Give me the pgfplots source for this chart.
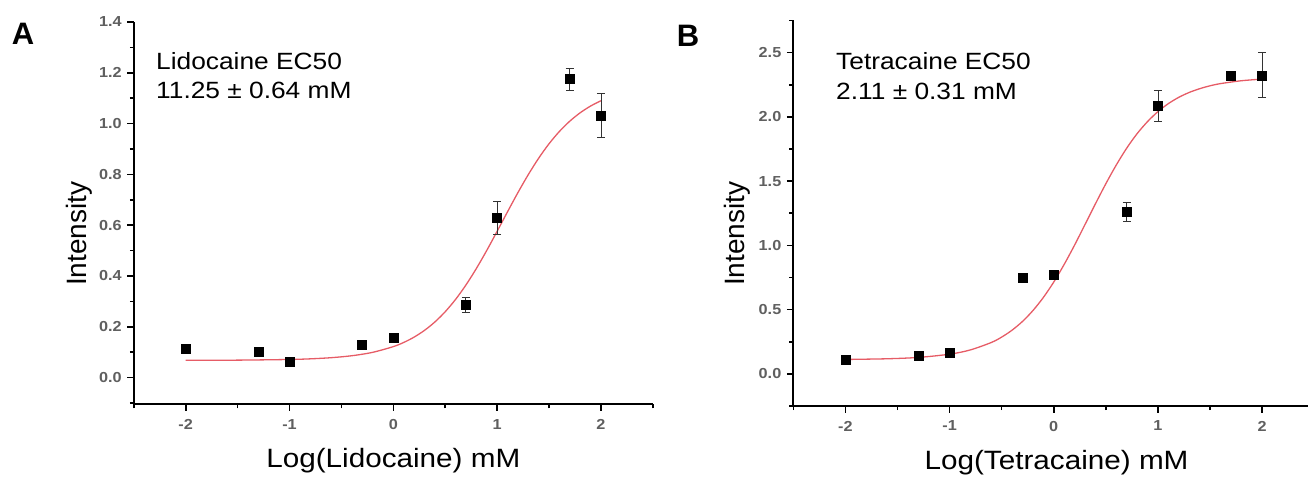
\documentclass[border=0pt]{standalone}
\usepackage{fontspec}
\setmainfont{Liberation Sans}
\newfontfamily\widesans{Liberation Sans}[FakeStretch=1.12]
\usepackage{pgfplots}
\pgfplotsset{compat=1.18}
\definecolor{fitred}{RGB}{230,92,102}
\definecolor{ticktext}{RGB}{95,95,95}

\pgfplotsset{
  panel/.style={
    scale only axis,
    axis lines*=left,
    axis line style={line width=2bp},
    tick align=outside,
    major tick length=6.5bp,
    minor tick length=4bp,
    every tick/.style={black, line width=1.6bp},
    tick label style={font=\widesans\bfseries\fontsize{14.5bp}{16bp}\selectfont, text=ticktext},
    xtick={-2,-1,0,1,2},
    xticklabels={-2,-1,0,1,2},
    minor xtick={-2.5,-1.5,-0.5,0.5,1.5,2.5},
    xticklabel style={yshift=-5bp},
    yticklabel style={xshift=-2bp},
    xmin=-2.5,
    xlabel style={font=\widesans\fontsize{26.5bp}{30bp}\selectfont, anchor=base},
    ylabel style={font=\fontsize{28bp}{30bp}\selectfont, anchor=base},
    ylabel={Intensity},
  },
  pts/.style={only marks, mark=square*, mark size=4.5bp, black,
    error bars/.cd, y dir=both, y explicit,
    error bar style={line width=0.8bp, black!80},
    error mark options={rotate=90, mark size=4bp, line width=0.8bp, black!80}},
  fit/.style={fitred, line width=1.3bp, smooth, no marks},
}

\begin{document}
\begin{tikzpicture}
\path[use as bounding box] (0,0) rectangle (1309bp,478bp);

% panel A
\begin{axis}[panel,
  at={(133.8bp,73.7bp)}, anchor=south west,
  width=519bp, height=382.4bp,
  xmax=2.5, ymin=-0.105, ymax=1.4,
  ytick={0,0.2,0.4,0.6,0.8,1.0,1.2,1.4},
  yticklabels={0.0,0.2,0.4,0.6,0.8,1.0,1.2,1.4},
  minor ytick={-0.1,0.1,0.3,0.5,0.7,0.9,1.1,1.3},
  xlabel={Log(Lidocaine) mM},
  xlabel style={at={(rel axis cs:0.5,-0.1665)}},
  ylabel style={at={(rel axis cs:-0.0915,0.446)}},
]
\addplot[fit] coordinates {
  (-2,0.0682) (-1.5,0.0688) (-1,0.0714) (-0.8,0.0739) (-0.6,0.0784)
  (-0.4,0.0861) (-0.2,0.0994) (0,0.122) (0.1,0.1383) (0.2,0.1593)
  (0.3,0.1858) (0.4,0.2188) (0.5,0.2593) (0.6,0.3078) (0.7,0.3647)
  (0.8,0.4293) (0.9,0.5003) (1.0,0.5757) (1.1,0.6523) (1.2,0.7277)
  (1.3,0.7987) (1.4,0.8633) (1.5,0.9202) (1.6,0.9687) (1.7,1.0092)
  (1.8,1.0422) (1.9,1.0687) (2.0,1.0897)
};
\addplot[pts] coordinates {
  (-2,0.113) +- (0,0.01)
  (-1.301,0.102) +- (0,0.012)
  (-1,0.063) +- (0,0.01)
  (-0.301,0.129) +- (0,0.01)
  (0,0.159) +- (0,0.01)
  (0.699,0.286) +- (0,0.03)
  (1,0.630) +- (0,0.065)
  (1.699,1.175) +- (0,0.043)
  (2,1.032) +- (0,0.085)
};
\end{axis}

% panel B
\begin{axis}[panel,
  at={(793.3bp,72bp)}, anchor=south west,
  width=514.6bp, height=385.5bp,
  xmax=2.44, ymin=-0.25, ymax=2.75,
  ytick={0,0.5,1.0,1.5,2.0,2.5},
  yticklabels={0.0,0.5,1.0,1.5,2.0,2.5},
  minor ytick={-0.25,0.25,0.75,1.25,1.75,2.25,2.75},
  xlabel={Log(Tetracaine) mM},
  xlabel style={at={(rel axis cs:0.5115,-0.166)}},
  ylabel style={at={(rel axis cs:-0.0942,0.447)}},
]
\addplot[fit] coordinates {
  (-2,0.1123) (-1.6,0.1175) (-1.3,0.1281) (-1.0,0.1531) (-0.8,0.1865)
  (-0.6,0.244) (-0.5,0.2862) (-0.4,0.3401) (-0.3,0.4081) (-0.2,0.4924)
  (-0.1,0.5944) (0,0.7143) (0.1,0.8514) (0.2,1.002) (0.3,1.162)
  (0.4,1.323) (0.5,1.4795) (0.6,1.625) (0.7,1.756) (0.8,1.869)
  (0.9,1.963) (1.0,2.041) (1.1,2.103) (1.2,2.152) (1.3,2.190)
  (1.4,2.219) (1.5,2.2418) (1.6,2.2587) (1.8,2.2811) (2.0,2.294)
};
\addplot[pts] coordinates {
  (-2,0.114) +- (0,0.01)
  (-1.301,0.140) +- (0,0.01)
  (-1,0.161) +- (0,0.01)
  (-0.301,0.749) +- (0,0.02)
  (0,0.768) +- (0,0.01)
  (0.699,1.263) +- (0,0.075)
  (1,2.085) +- (0,0.124)
  (1.699,2.318) +- (0,0.02)
  (2,2.324) +- (0,0.175)
};
\end{axis}

% panel letters and EC50 notes
\node[font=\bfseries\fontsize{31bp}{33bp}\selectfont] at (23bp,444bp) {A};
\node[font=\bfseries\fontsize{31bp}{33bp}\selectfont] at (688bp,442bp) {B};
\begin{scope}[every node/.style={anchor=base west, inner sep=0pt,
    font=\widesans\fontsize{23.5bp}{28bp}\selectfont}]
\node at (156bp,408bp) {Lidocaine EC50};
\node at (156bp,379bp) {11.25 ± 0.64 mM};
\node at (836bp,408bp) {Tetracaine EC50};
\node at (836bp,378bp) {2.11 ± 0.31 mM};
\end{scope}
\end{tikzpicture}
\end{document}
